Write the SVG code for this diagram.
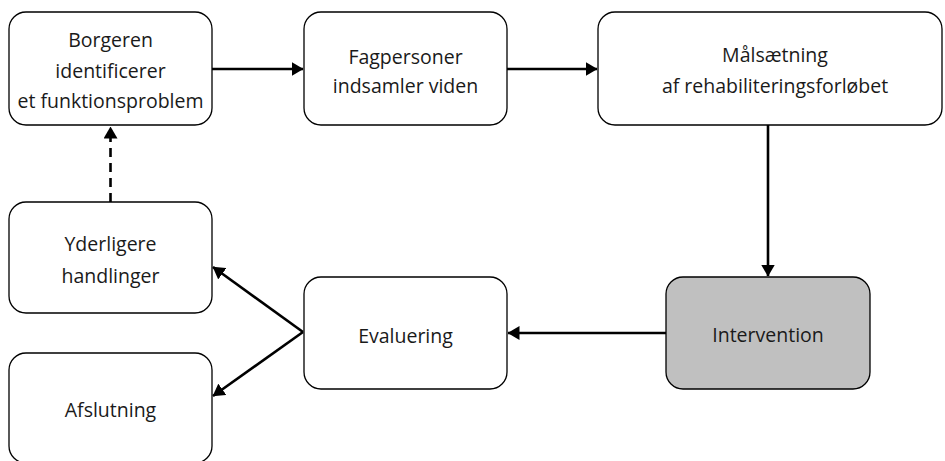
<svg xmlns="http://www.w3.org/2000/svg" width="945" height="461" viewBox="0 0 945 461">
<style>
.box{fill:#fff;stroke:#000;stroke-width:1.3}
.grey{fill:#c0c0c0}
text{font-family:"Open Sans","Noto Sans",sans-serif;font-size:19.5px;fill:#1a1a1a;text-anchor:middle}
.c{stroke:#000;stroke-width:2.6;fill:none}
.d{stroke-dasharray:9,6}
</style>
<defs>
<marker id="ah" viewBox="0 0 12 14" refX="11.5" refY="7" markerWidth="12" markerHeight="14" orient="auto" markerUnits="userSpaceOnUse">
<path d="M0,0 L12,7 L0,14 z" fill="#000"/>
</marker>
</defs>
<rect width="945" height="461" fill="#fff"/>
<g id="n1"><rect class="box" x="9" y="12" width="203" height="113" rx="17"/>
<text x="110.5" y="47">Borgeren</text><text x="110.5" y="78">identificerer</text><text x="110.5" y="108">et funktionsproblem</text></g>
<g id="n2"><rect class="box" x="304" y="12" width="203" height="113" rx="17"/>
<text x="405.5" y="64">Fagpersoner</text><text x="405.5" y="93">indsamler viden</text></g>
<g id="n3"><rect class="box" x="598" y="12" width="344" height="113" rx="17"/>
<text x="775" y="62">Målsætning</text><text x="775" y="93">af rehabiliteringsforløbet</text></g>
<g id="n4"><rect class="box grey" x="666" y="277" width="204" height="112" rx="17"/>
<text x="768" y="342">Intervention</text></g>
<g id="n5"><rect class="box" x="304" y="277" width="203" height="112" rx="17"/>
<text x="405.5" y="343">Evaluering</text></g>
<g id="n6"><rect class="box" x="9" y="202" width="203" height="111" rx="17"/>
<text x="110.5" y="251">Yderligere</text><text x="110.5" y="283">handlinger</text></g>
<g id="n7"><rect class="box" x="9" y="353" width="203" height="110" rx="17"/>
<text x="110.5" y="417">Afslutning</text></g>
<g id="connectors">
<line class="c" x1="212" y1="69" x2="303" y2="69" marker-end="url(#ah)"/>
<line class="c" x1="507" y1="69" x2="597" y2="69" marker-end="url(#ah)"/>
<line class="c" x1="768" y1="125" x2="768" y2="276" marker-end="url(#ah)"/>
<line class="c" x1="666" y1="333" x2="508" y2="333" marker-end="url(#ah)"/>
<line class="c" x1="303" y1="332" x2="213" y2="267" marker-end="url(#ah)"/>
<line class="c" x1="303" y1="332" x2="213" y2="396" marker-end="url(#ah)"/>
<line class="c d" x1="110.5" y1="202" x2="110.5" y2="127" marker-end="url(#ah)"/>
</g>
</svg>
